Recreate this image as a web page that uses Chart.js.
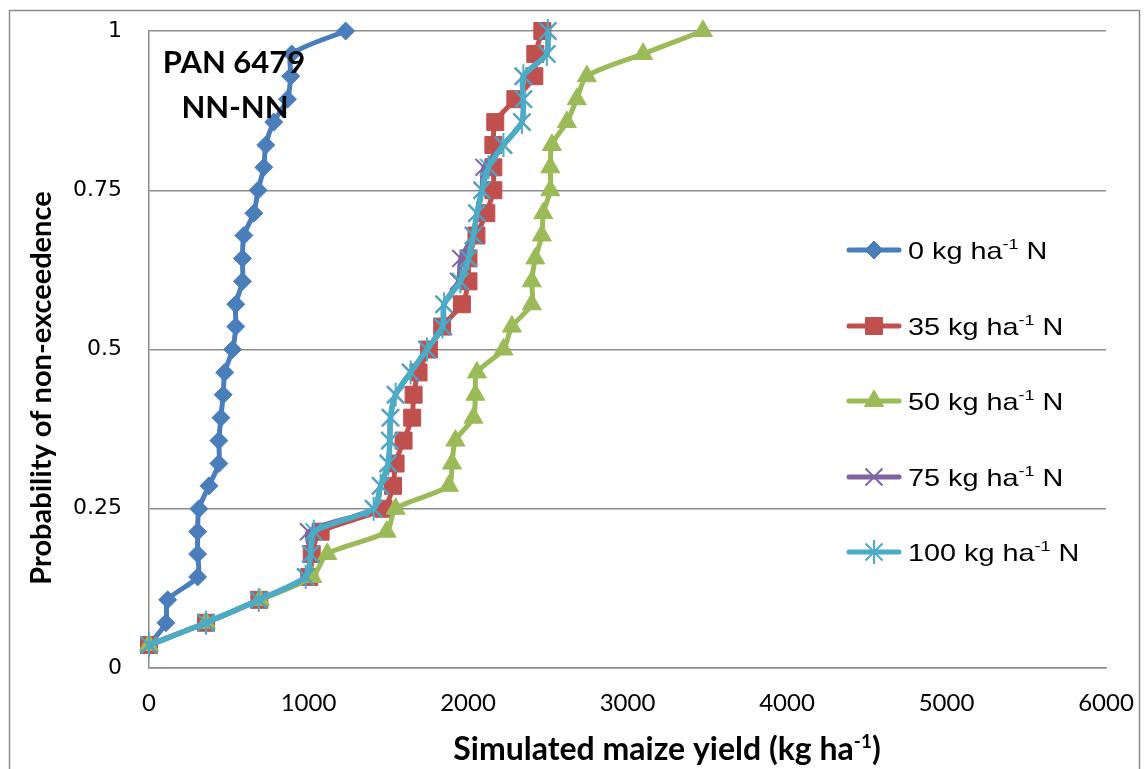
<!DOCTYPE html>
<html>
<head>
<meta charset="utf-8">
<title>PAN 6479 NN-NN</title>
<script src="https://cdn.jsdelivr.net/npm/chart.js@4/dist/chart.umd.min.js"></script>
<style>
  html, body { margin: 0; padding: 0; background: #ffffff; }
  canvas { display: block; }
</style>
</head>
<body>
<canvas id="chart" width="1145" height="769"></canvas>
<script>
// Probability of non-exceedence for each of the 28 simulated seasons
const probability = [0.036, 0.071, 0.107, 0.143, 0.179, 0.214, 0.25, 0.286, 0.321, 0.357,
  0.393, 0.429, 0.464, 0.5, 0.536, 0.571, 0.607, 0.643, 0.679, 0.714,
  0.75, 0.786, 0.821, 0.857, 0.893, 0.929, 0.964, 1];

// Simulated maize yield (kg/ha), sorted, per N application rate
const yield0N = [0, 106, 117, 305, 305, 305, 313, 376, 438, 438,
  451, 465, 475, 524, 544, 544, 586, 586, 595, 657,
  684, 720, 732, 782, 868, 889, 895, 1233];
const yield35N = [0, 357, 692, 1005, 1020, 1076, 1470, 1530, 1546, 1596,
  1650, 1659, 1690, 1755, 1838, 1962, 2003, 2003, 2053, 2115,
  2159, 2159, 2159, 2171, 2297, 2416, 2422, 2466];
const yield50N = [0, 357, 695, 1024, 1118, 1490, 1546, 1880, 1900, 1921,
  2034, 2046, 2056, 2222, 2275, 2400, 2400, 2422, 2463, 2472,
  2516, 2516, 2526, 2620, 2682, 2745, 3098, 3473];
const yield75N = [0, 357, 688, 982, 1014, 1000, 1408, 1452, 1500, 1510,
  1514, 1546, 1640, 1743, 1846, 1850, 1940, 1955, 2034, 2056,
  2088, 2100, 2222, 2338, 2347, 2347, 2494, 2500];
const yield100N = [0, 357, 688, 982, 1014, 1033, 1408, 1452, 1500, 1510,
  1514, 1546, 1640, 1743, 1840, 1850, 1952, 2003, 2034, 2056,
  2088, 2128, 2222, 2338, 2347, 2347, 2494, 2500];

const nRates = ['0', '35', '50', '75', '100'];
const xTickValues = [0, 1000, 2000, 3000, 4000, 5000, 6000];
const yTickValues = [0, 0.25, 0.5, 0.75, 1];

const COLORS = ['#4A7EBB', '#C0504D', '#9BBB59', '#8064A2', '#4BACC6'];
const GRID = '#8c8c8c';

// Asterisk marker (X plus a vertical stroke) for the 100 kg N series
function makeAsterisk(color, size, lw) {
  const c = document.createElement('canvas');
  c.width = size; c.height = size;
  const g = c.getContext('2d');
  const m = size / 2, r = size / 2 - lw, d = r * Math.SQRT1_2;
  g.strokeStyle = color; g.lineWidth = lw;
  g.beginPath();
  g.moveTo(m - d, m - d); g.lineTo(m + d, m + d);
  g.moveTo(m + d, m - d); g.lineTo(m - d, m + d);
  g.moveTo(m, m - r); g.lineTo(m, m + r);
  g.stroke();
  return c;
}
const asterisk = makeAsterisk(COLORS[4], 28, 2);

const markers = [
  { style: 'rectRot', radius: 9, width: 1 },
  { style: 'rect', radius: 12, width: 1 },
  { style: 'triangle', radius: 11, width: 1 },
  { style: 'crossRot', radius: 12, width: 2 },
  { style: asterisk, radius: 12, width: 2 }
];

const yieldSeries = [yield0N, yield35N, yield50N, yield75N, yield100N];

const datasets = yieldSeries.map((ys, i) => ({
  label: nRates[i] + ' kg ha-1 N',
  data: ys.map((x, k) => ({ x: x, y: probability[k] })),
  borderColor: COLORS[i],
  backgroundColor: COLORS[i],
  borderWidth: i === 4 ? 5.5 : 5,
  tension: 0.25,
  pointStyle: markers[i].style,
  pointRadius: markers[i].radius,
  pointHoverRadius: markers[i].radius,
  pointBorderWidth: markers[i].width,
  pointBackgroundColor: COLORS[i],
  pointBorderColor: COLORS[i],
  clip: false,
  order: 5 - i
}));

// Draws a run of text pieces (with superscripts) starting at x
function drawRuns(ctx, runs, x, y) {
  let cx = x;
  runs.forEach(r => {
    ctx.font = r.font;
    ctx.fillText(r.text, cx, y + (r.dy || 0));
    cx += ctx.measureText(r.text).width;
  });
  return cx;
}
function runsWidth(ctx, runs) {
  let w = 0;
  runs.forEach(r => { ctx.font = r.font; w += ctx.measureText(r.text).width; });
  return w;
}

function drawMarker(ctx, i, x, y) {
  const m = markers[i];
  const c = COLORS[i];
  ctx.save();
  ctx.fillStyle = c; ctx.strokeStyle = c; ctx.lineWidth = m.width;
  const r = m.radius;
  ctx.beginPath();
  if (m.style === 'rectRot') {
    ctx.moveTo(x - r, y); ctx.lineTo(x, y - r); ctx.lineTo(x + r, y); ctx.lineTo(x, y + r);
    ctx.closePath(); ctx.fill(); ctx.stroke();
  } else if (m.style === 'rect') {
    const s = r * Math.SQRT1_2;
    ctx.rect(x - s, y - s, 2 * s, 2 * s); ctx.fill(); ctx.stroke();
  } else if (m.style === 'triangle') {
    for (let k = 0; k < 3; k++) {
      const a = k * 2 * Math.PI / 3;
      const px = x + Math.sin(a) * r, py = y - Math.cos(a) * r;
      if (k === 0) ctx.moveTo(px, py); else ctx.lineTo(px, py);
    }
    ctx.closePath(); ctx.fill(); ctx.stroke();
  } else if (m.style === 'crossRot') {
    const d = r * Math.SQRT1_2;
    ctx.moveTo(x - d, y - d); ctx.lineTo(x + d, y + d);
    ctx.moveTo(x + d, y - d); ctx.lineTo(x - d, y + d);
    ctx.stroke();
  } else {
    ctx.drawImage(m.style, x - m.style.width / 2, y - m.style.height / 2);
  }
  ctx.restore();
}

const decorations = {
  id: 'decorations',
  afterDraw(chart) {
    const ctx = chart.ctx;
    ctx.save();

    // Outer chart frame
    ctx.strokeStyle = GRID;
    ctx.lineWidth = 1.5;
    ctx.strokeRect(9.5, 10.5, 1130, 800);

    ctx.fillStyle = '#000000';
    ctx.textBaseline = 'alphabetic';
    ctx.textAlign = 'left';

    // Cultivar / scenario label
    ctx.font = 'bold 31px Lato';
    ctx.textAlign = 'center';
    ctx.fillText('PAN 6479', 234, 73);
    ctx.fillText('NN-NN', 235, 118);
    ctx.textAlign = 'left';

    // X axis title
    const xRuns = [
      { text: 'Simulated maize yield (kg ha', font: 'bold 32px Lato' },
      { text: '-1', font: 'bold 19px Lato', dy: -12 },
      { text: ')', font: 'bold 32px Lato' }
    ];
    const xw = runsWidth(ctx, xRuns);
    drawRuns(ctx, xRuns, 667 - xw / 2, 760);

    // Y axis title
    ctx.save();
    ctx.translate(51, 388);
    ctx.rotate(-Math.PI / 2);
    ctx.font = 'bold 29px Lato';
    ctx.textAlign = 'center';
    ctx.fillText('Probability of non-exceedence', 0, 0);
    ctx.restore();

    // Legend
    const legendY = [250, 326, 401, 477, 552];
    nRates.forEach((rate, i) => {
      const y = legendY[i];
      ctx.save();
      ctx.strokeStyle = COLORS[i];
      ctx.lineWidth = 5;
      ctx.lineCap = 'round';
      ctx.beginPath();
      ctx.moveTo(849, y); ctx.lineTo(899, y);
      ctx.stroke();
      ctx.restore();
      drawMarker(ctx, i, 874, y);

      ctx.save();
      ctx.translate(908, y + 9);
      ctx.scale(1.2, 1);
      ctx.fillStyle = '#000000';
      drawRuns(ctx, [
        { text: rate + ' kg ha', font: '24px "Liberation Sans"' },
        { text: '-1', font: '15px "Liberation Sans"', dy: -10 },
        { text: ' N', font: '24px "Liberation Sans"' }
      ], 0, 0);
      ctx.restore();
    });

    ctx.restore();
  }
};

new Chart(document.getElementById('chart'), {
  type: 'line',
  data: { datasets: datasets },
  options: {
    responsive: false,
    animation: false,
    devicePixelRatio: 1,
    layout: { autoPadding: false, padding: { top: 31, right: 39, left: 0, bottom: 0 } },
    plugins: {
      legend: { display: false },
      tooltip: { enabled: false },
      title: { display: false }
    },
    scales: {
      x: {
        type: 'linear',
        min: 0,
        max: 6000,
        afterFit(s) { s.height = 101; },
        afterBuildTicks(s) { s.ticks = xTickValues.map(v => ({ value: v })); },
        // invisible tick marks only provide the gap between axis and labels
        grid: { display: true, color: 'rgba(0,0,0,0)', tickColor: 'rgba(0,0,0,0)', drawTicks: true, tickLength: 21 },
        border: { display: true, color: GRID, width: 1.5 },
        ticks: {
          padding: 0,
          color: '#000000',
          font: { family: 'Lato', size: 24 },
          callback: v => String(v)
        }
      },
      y: {
        type: 'linear',
        min: 0,
        max: 1,
        afterFit(s) { s.width = 149; },
        afterBuildTicks(s) { s.ticks = yTickValues.map(v => ({ value: v })); },
        grid: { color: GRID, lineWidth: 1.5, tickColor: 'rgba(0,0,0,0)', drawTicks: true, tickLength: 27 },
        border: { display: true, color: GRID, width: 1.5 },
        ticks: {
          padding: 0,
          color: '#000000',
          font: { family: 'DejaVu Sans', size: 22 },
          callback: v => String(v)
        }
      }
    }
  },
  plugins: [decorations]
});
</script>
</body>
</html>
